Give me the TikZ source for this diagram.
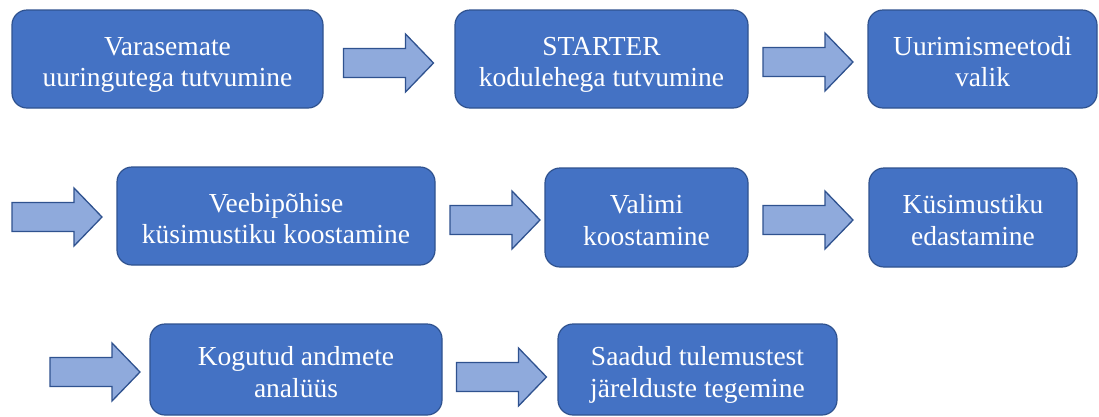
\documentclass[tikz,border=0pt]{standalone}
\usepackage{fontspec}
\setmainfont{Liberation Serif}
\definecolor{boxfill}{HTML}{4472C4}
\definecolor{boxline}{HTML}{2F528F}
\definecolor{arrfill}{HTML}{8FAADC}
\begin{document}
\begin{tikzpicture}[x=1pt,y=-1pt,
  stepbox/.style={draw=boxline,line width=1.2pt,fill=boxfill,rounded corners=15pt,
    text=white,align=center,inner sep=0pt,text height=61pt,text depth=6pt,
    font=\fontsize{27.5}{31.5}\selectfont},
  arrowstyle/.style={draw=boxline,line width=1.3pt,fill=arrfill,line join=miter},
  blockarr/.pic={\draw[arrowstyle] (-45,-14.5) -- (17,-14.5) -- (17,-29) -- (45,0) -- (17,29) -- (17,14.5) -- (-45,14.5) -- cycle;}
]
\useasboundingbox (0,0) rectangle (1099,416);
% row 1
\node[stepbox,minimum width=311pt,minimum height=98pt] (b1) at (167.5,59) {Varasemate\\uuringutega tutvumine};
\pic (a1) at (388.5,63) {blockarr};
\node[stepbox,minimum width=293pt,minimum height=98pt] (b2) at (601.5,59) {STARTER\\kodulehega tutvumine};
\pic (a2) at (808,62) {blockarr};
\node[stepbox,minimum width=229pt,minimum height=98pt] (b3) at (982.5,59) {Uurimismeetodi\\valik};
% row 2
\pic (a3) at (57,217) {blockarr};
\node[stepbox,minimum width=318pt,minimum height=98pt] (b4) at (276,216) {Veebipõhise\\küsimustiku koostamine};
\pic (a4) at (495,220) {blockarr};
\node[stepbox,minimum width=203pt,minimum height=99pt] (b5) at (646.5,217.5) {Valimi\\koostamine};
\pic (a5) at (808,220) {blockarr};
\node[stepbox,minimum width=208pt,minimum height=99pt] (b6) at (973,217.5) {Küsimustiku\\edastamine};
% row 3
\pic (a6) at (95,372) {blockarr};
\node[stepbox,minimum width=292pt,minimum height=91pt] (b7) at (296,369.5) {Kogutud andmete\\analüüs};
\pic (a7) at (501.5,377) {blockarr};
\node[stepbox,minimum width=279pt,minimum height=91pt] (b8) at (697.5,369.5) {Saadud tulemustest\\järelduste tegemine};
\end{tikzpicture}
\end{document}
